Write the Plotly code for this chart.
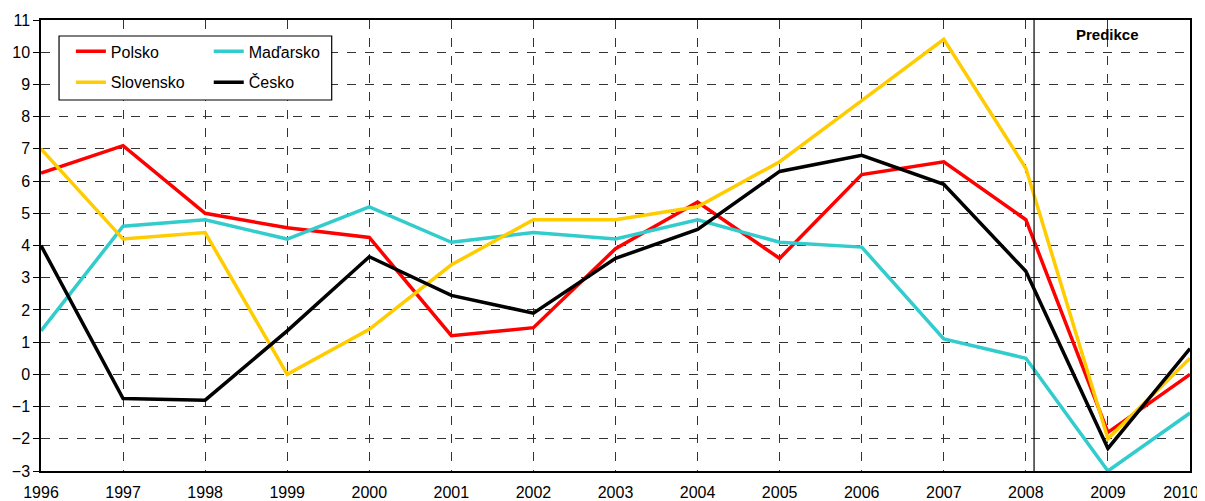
import plotly.graph_objects as go

years = list(range(1996, 2011))
year_labels = [str(y) for y in years[:-1]] + [str(years[-1]) + "\u00a0\u00a0\u00a0\u00a0"]
polsko = [6.25, 7.1, 5.0, 4.55, 4.25, 1.2, 1.45, 3.9, 5.35, 3.6, 6.2, 6.6, 4.8, -1.8, 0.0]
madarsko = [1.35, 4.6, 4.8, 4.2, 5.2, 4.1, 4.4, 4.2, 4.8, 4.1, 3.95, 1.1, 0.5, -3.0, -1.2]
slovensko = [7.0, 4.2, 4.4, 0.0, 1.4, 3.4, 4.8, 4.8, 5.2, 6.6, 8.5, 10.4, 6.4, -2.0, 0.5]
cesko = [4.0, -0.75, -0.8, 1.35, 3.65, 2.45, 1.9, 3.6, 4.5, 6.3, 6.8, 5.9, 3.2, -2.3, 0.8]

series = [
    ("Polsko", polsko, "#FF0000", "legend"),
    ("Maďarsko", madarsko, "#33CCCC", "legend2"),
    ("Slovensko", slovensko, "#FFCC00", "legend"),
    ("Česko", cesko, "#000000", "legend2"),
]

FONT = "Liberation Sans, Arial, sans-serif"

fig = go.Figure()
for name, vals, color, lg in series:
    fig.add_trace(go.Scatter(
        x=years, y=vals, mode="lines", name=name,
        line=dict(color=color, width=3.5),
        legend=lg, legendgroup=name, cliponaxis=False,
    ))

grid = dict(showgrid=True, gridcolor="#333333", griddash="dash", gridwidth=1,
            showline=True, linecolor="black", linewidth=1.5, mirror=True,
            zeroline=False, automargin=False, ticklabeloverflow="allow",
            tickfont=dict(family=FONT, size=16, color="black"))

fig.update_xaxes(range=[1996, 2010], tickmode="array", tickvals=years,
                 ticktext=year_labels, ticks="", ticklabelstandoff=6,
                 **grid)
fig.update_yaxes(range=[-3, 11], tickmode="linear", dtick=1, tick0=-3,
                 ticks="outside", ticklen=6, tickcolor="black", **grid)

# Prediction boundary
fig.add_shape(type="line", xref="x", yref="paper", x0=2008.1, x1=2008.1,
              y0=0, y1=1, line=dict(color="black", width=1.2))
fig.add_annotation(x=2009, y=1, xref="x", yref="paper", yanchor="top",
                   yshift=-4, text="<b>Predikce</b>", showarrow=False,
                   font=dict(family=FONT, size=15, color="black"))

# Legend frame
fig.add_shape(type="rect", xref="paper", yref="paper",
              x0=0.0157, x1=0.253, y0=0.8226, y1=0.9645,
              line=dict(color="black", width=1.2), fillcolor="white", layer="above")

leg = dict(font=dict(family=FONT, size=16, color="black"), bgcolor="rgba(0,0,0,0)",
           orientation="v", yanchor="top", tracegroupgap=7, itemwidth=30)
fig.update_layout(
    legend=dict(x=0.026, y=0.968, **leg),
    legend2=dict(x=0.146, y=0.968, **leg),
    width=1197, height=493,
    margin=dict(l=33, r=15, t=12, b=30, autoexpand=False),
    plot_bgcolor="white", paper_bgcolor="white",
    font=dict(family=FONT, size=16, color="black"),
)

fig.write_html("out.html")
